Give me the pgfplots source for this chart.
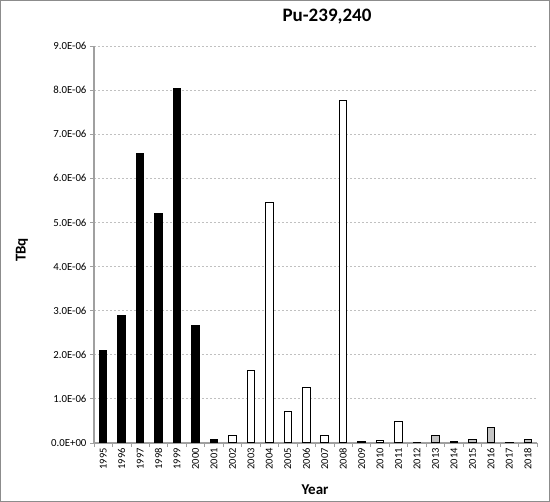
\documentclass[border=0pt]{standalone}
\usepackage{pgfplots}
\pgfplotsset{compat=1.18}
\usepackage{fontspec}
\setmainfont{Carlito}

\definecolor{axisgray}{RGB}{160,160,160}
\definecolor{gridgray}{RGB}{192,192,192}
\definecolor{bargray}{RGB}{196,196,196}
\definecolor{framegray}{RGB}{140,140,140}

\begin{document}
\begin{tikzpicture}
\useasboundingbox (-94pt,-59pt) rectangle (456pt,443pt);
\draw[framegray, line width=1pt] (-93.5pt,-58.5pt) rectangle (455.5pt,442.5pt);
\begin{axis}[
    at={(0pt,0pt)}, anchor=south west,
    scale only axis,
    width=443pt, height=397pt,
    ybar,
    bar width=7.5pt,
    xmin=-0.5, xmax=23.5,
    ymin=0, ymax=9,
    enlargelimits=false,
    axis x line*=bottom,
    axis y line*=left,
    axis line style={axisgray, line width=1.2pt},
    xtick={0,...,23},
    xticklabels={1995,1996,1997,1998,1999,2000,2001,2002,2003,2004,2005,2006,2007,2008,2009,2010,2011,2012,2013,2014,2015,2016,2017,2018},
    x tick label style={rotate=90, anchor=east, font=\fontsize{10.5}{12}\selectfont, inner sep=1pt},
    major x tick style={draw=none},
    minor xtick={-0.5,0.5,...,23.5},
    minor x tick style={axisgray, line width=0.8pt},
    ytick={0,1,...,9},
    yticklabels={0.0E+00,1.0E-06,2.0E-06,3.0E-06,4.0E-06,5.0E-06,6.0E-06,7.0E-06,8.0E-06,9.0E-06},
    y tick label style={font=\fontsize{10.8}{12}\selectfont},
    y tick style={axisgray, line width=0.8pt},
    tick align=outside,
    major tick length=4pt,
    minor tick length=4pt,
    ymajorgrids=true,
    major grid style={gridgray, dash pattern=on 2pt off 2pt, line width=0.8pt},
    title={Pu-239,240},
    title style={at={(axis description cs:0.526,1.058)}, anchor=center, font=\fontsize{19}{22}\bfseries},
    xlabel={Year},
    xlabel style={at={(axis description cs:0.499,-0.118)}, anchor=center, font=\fontsize{15}{18}\bfseries},
    ylabel={TBq},
    ylabel style={at={(axis description cs:-0.1625,0.486)}, anchor=center, font=\fontsize{15}{18}\bfseries},
]
% 1995-2001
\addplot[bar shift=0pt, fill=black, draw=black, line width=1pt] coordinates {
  (0,2.09) (1,2.89) (2,6.56) (3,5.21) (4,8.03) (5,2.67) (6,0.09)
};
% 2002-2012
\addplot[bar shift=0pt, fill=white, draw=black, line width=1pt] coordinates {
  (7,0.17) (8,1.64) (9,5.45) (10,0.72) (11,1.25) (12,0.18) (13,7.77)
  (14,0.04) (15,0.06) (16,0.48) (17,0.015)
};
% 2013-2018
\addplot[bar shift=0pt, fill=bargray, draw=black, line width=1pt] coordinates {
  (18,0.16) (19,0.045) (20,0.08) (21,0.34) (22,0.015) (23,0.07)
};
\end{axis}
\end{tikzpicture}
\end{document}
